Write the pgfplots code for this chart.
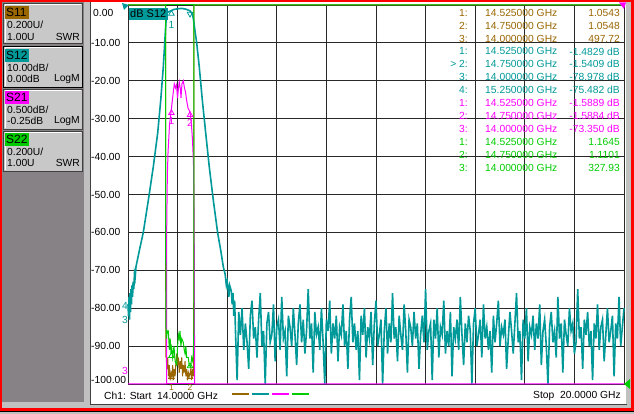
\documentclass[border=0pt]{standalone}
\usepackage{pgfplots}
\pgfplotsset{compat=1.18}
\usepackage{fontspec}
\setmainfont{Liberation Sans}
\definecolor{vteal}{RGB}{0,153,153}
\definecolor{vbrown}{RGB}{153,102,0}
\definecolor{vmag}{RGB}{255,0,255}
\definecolor{vgreen}{RGB}{0,204,0}
\definecolor{panel}{RGB}{134,130,134}
\definecolor{btn}{RGB}{200,200,200}
\definecolor{frm}{RGB}{192,192,192}
\definecolor{gridc}{RGB}{40,40,40}
\definecolor{dkb}{RGB}{64,64,64}
\begin{document}
\fontsize{10.3}{12}\selectfont
\begin{tikzpicture}
\useasboundingbox (0,0) rectangle (634pt,414pt);
\begin{scope}[shift={(0pt,414pt)},x=1pt,y=-1pt]
 \fill[red] (0,0) rectangle (634,411);
 \fill[black] (0,411) rectangle (634,412);
 \fill[frm] (0,412) rectangle (634,414);
 \fill[frm] (2,2) rectangle (631,408);
 \fill[panel] (2,2) rectangle (84,402);
 \fill[white] (91,2) rectangle (626,404);
 \draw[dkb,line width=1pt] (90,2) -- (90,405) -- (627,405);
 % buttons
 \foreach \ya/\yb in {3/44,46/88,89/130,131/172}{
   \fill[btn] (3,\ya) rectangle (83,\yb);
   \draw[dkb,line width=1pt] (3.5,\ya+0.5) rectangle (82.5,\yb-0.5);
   \draw[white,line width=1pt] (5,\yb-2) -- (5,\ya+2) -- (81,\ya+2);
 }
 \draw[black,line width=1.2pt] (3.5,46.5) rectangle (82.5,87.5);
 \fill[vbrown] (5,6) rectangle (29,19);
 \node[anchor=west,inner sep=0pt,font=\fontsize{12}{12}\selectfont] at (6,12.8) {S11};
 \node[anchor=west,inner sep=0pt] at (7,25) {0.200U/};
 \node[anchor=west,inner sep=0pt] at (7,36.5) {1.00U};
 \node[anchor=east,inner sep=0pt] at (80,36.5) {SWR};
 \fill[vteal] (5,49) rectangle (29,62);
 \node[anchor=west,inner sep=0pt,font=\fontsize{12}{12}\selectfont] at (6,55.5) {S12};
 \node[anchor=west,inner sep=0pt] at (7,67.5) {10.00dB/};
 \node[anchor=west,inner sep=0pt] at (7,79) {0.00dB};
 \node[anchor=east,inner sep=0pt] at (80,79) {LogM};
 \fill[vmag] (5,91) rectangle (29,104);
 \node[anchor=west,inner sep=0pt,font=\fontsize{12}{12}\selectfont] at (6,97.5) {S21};
 \node[anchor=west,inner sep=0pt] at (7,109.5) {0.500dB/};
 \node[anchor=west,inner sep=0pt] at (7,121) {-0.25dB};
 \node[anchor=east,inner sep=0pt] at (80,121) {LogM};
 \fill[vgreen] (5,133) rectangle (29,146);
 \node[anchor=west,inner sep=0pt,font=\fontsize{12}{12}\selectfont] at (6,139.5) {S22};
 \node[anchor=west,inner sep=0pt] at (7,151.5) {0.200U/};
 \node[anchor=west,inner sep=0pt] at (7,163) {1.00U};
 \node[anchor=east,inner sep=0pt] at (80,163) {SWR};
 % y labels
 \node[anchor=west,inner sep=0pt] at (93,12.7) {0.00};
 \foreach \lab/\yy in {-10.00/42.9,-20.00/80.8,-30.00/118.7,-40.00/156.6,-50.00/194.5,-60.00/232.4,-70.00/270.3,-80.00/308.2,-90.00/346.1,-100.00/379.5}{
   \node[anchor=west,inner sep=0pt] at (91,\yy) {\lab};
 }
\end{scope}
\begin{axis}[
  at={(128pt,30pt)}, anchor=south west,
  width=496pt, height=379pt, scale only axis,
  xmin=14, xmax=20, ymin=-100, ymax=0,
  xtick={14,14.6,15.2,15.8,16.4,17,17.6,18.2,18.8,19.4,20},
  ytick={-100,-90,-80,-70,-60,-50,-40,-30,-20,-10,0},
  xticklabels={}, yticklabels={},
  major tick length=0pt,
  grid=major,
  major grid style={draw=gridc, line width=0.9pt},
  axis line style={draw=gridc, line width=0.9pt},
  clip=false,
]
% S11 (SWR, screen units)
\addplot[vbrown, line width=1pt] coordinates {
(14.0,0)(14.455,0)(14.457,-93)(14.46,-92)(14.47,-96)(14.48,-93)(14.49,-98)(14.50,-95)(14.51,-99)(14.52,-97)(14.525,-97.3)(14.53,-98)(14.54,-95)(14.55,-99)(14.56,-96)(14.57,-98)(14.58,-94)(14.59,-92)(14.60,-95)(14.61,-93)(14.62,-97)(14.63,-94)(14.64,-96)(14.65,-93)(14.66,-98)(14.67,-95)(14.68,-97)(14.69,-94)(14.70,-98)(14.71,-96)(14.72,-99)(14.73,-97)(14.74,-98)(14.75,-97.3)(14.76,-96)(14.77,-99)(14.78,-96)(14.79,-98)(14.795,-94)(14.797,0)(20,0)};
% S12 (dB)
\addplot[vteal, line width=1.6pt] coordinates {
(14.000,-79.0)(14.006,-82)(14.012,-77)(14.018,-83)(14.024,-76)(14.030,-81)(14.036,-75)(14.042,-79)(14.048,-74)(14.055,-77)(14.062,-73)(14.070,-75)(14.078,-71)(14.086,-72)(14.097,-69)(14.145,-64)(14.185,-60)(14.246,-51.5)(14.306,-42.7)(14.359,-33.8)(14.396,-25.1)(14.427,-16.3)(14.451,-7.4)(14.462,-3.5)(14.475,-2.0)(14.50,-1.7)(14.525,-1.48)(14.55,-1.2)(14.60,-1.0)(14.65,-0.9)(14.70,-1.1)(14.75,-1.54)(14.775,-2.3)(14.79,-3.5)(14.805,-6)(14.831,-10)(14.862,-16.3)(14.899,-25.1)(14.940,-33.8)(14.983,-42.7)(15.032,-51.5)(15.085,-60.2)(15.12,-64.5)(15.153,-69.1)(15.175,-71)(15.19,-74)(15.20,-73)(15.213,-75.2)(15.22,-77)(15.23,-74)(15.25,-75.5)(15.26,-79)(15.27,-76)(15.28,-82)(15.29,-78)
(15.30,-86)(15.32,-99)(15.34,-81)(15.36,-87)(15.38,-80)(15.40,-91)(15.42,-84)(15.44,-89)(15.46,-96)(15.48,-82)
(15.50,-78)(15.52,-88)(15.54,-85)(15.56,-93)(15.58,-83)(15.60,-76)(15.62,-90)(15.64,-86)(15.66,-100)(15.68,-84)
(15.70,-81)(15.72,-89)(15.74,-87)(15.76,-79)(15.78,-94)(15.80,-85)(15.82,-83)(15.84,-91)(15.86,-77)(15.88,-88)
(15.90,-86)(15.92,-98)(15.94,-82)(15.96,-85)(15.98,-90)(16.00,-80)(16.02,-87)(16.04,-95)(16.06,-84)(16.08,-79)
(16.10,-89)(16.12,-83)(16.14,-92)(16.16,-86)(16.18,-75)(16.20,-88)(16.22,-84)(16.24,-97)(16.26,-81)(16.28,-87)
(16.30,-85)(16.32,-91)(16.34,-80)(16.36,-89)(16.38,-100)(16.40,-83)(16.42,-86)(16.44,-78)(16.46,-92)(16.48,-84)
(16.50,-88)(16.52,-82)(16.54,-94)(16.56,-85)(16.58,-87)(16.60,-79)(16.62,-90)(16.64,-86)(16.66,-96)(16.68,-83)
(16.70,-77)(16.72,-89)(16.74,-84)(16.76,-91)(16.78,-86)(16.80,-99)(16.82,-82)(16.84,-87)(16.86,-80)(16.88,-93)
(16.90,-85)(16.92,-88)(16.94,-81)(16.96,-95)(16.98,-84)(17.00,-78)(17.02,-90)(17.04,-87)(17.06,-83)(17.08,-100)
(17.10,-86)(17.12,-80)(17.14,-92)(17.16,-84)(17.18,-89)(17.20,-76)(17.22,-88)(17.24,-85)(17.26,-94)(17.28,-82)
(17.30,-87)(17.32,-91)(17.34,-79)(17.36,-86)(17.38,-97)(17.40,-83)(17.42,-85)(17.44,-90)(17.46,-81)(17.48,-88)
(17.50,-84)(17.52,-96)(17.54,-87)(17.56,-82)(17.58,-89)(17.60,-75)(17.62,-91)(17.64,-86)(17.66,-84)(17.68,-99)
(17.70,-83)(17.72,-88)(17.74,-80)(17.76,-93)(17.78,-85)(17.80,-87)(17.82,-78)(17.84,-92)(17.86,-86)(17.88,-90)
(17.90,-81)(17.92,-98)(17.94,-85)(17.96,-88)(17.98,-83)(18.00,-91)(18.02,-77)(18.04,-87)(18.06,-95)(18.08,-84)
(18.10,-89)(18.12,-82)(18.14,-86)(18.16,-100)(18.18,-84)(18.20,-80)(18.22,-90)(18.24,-87)(18.26,-83)(18.28,-93)
(18.30,-79)(18.32,-88)(18.34,-85)(18.36,-91)(18.38,-86)(18.40,-97)(18.42,-82)(18.44,-89)(18.46,-84)(18.48,-78)
(18.50,-90)(18.52,-85)(18.54,-87)(18.56,-83)(18.58,-96)(18.60,-88)(18.62,-81)(18.64,-86)(18.66,-92)(18.68,-84)
(18.70,-76)(18.72,-89)(18.74,-86)(18.76,-99)(18.78,-83)(18.80,-88)(18.82,-80)(18.84,-94)(18.86,-85)(18.88,-87)
(18.90,-82)(18.92,-91)(18.94,-84)(18.96,-88)(18.98,-79)(19.00,-95)(19.02,-86)(19.04,-83)(19.06,-90)(19.08,-100)
(19.10,-85)(19.12,-81)(19.14,-89)(19.16,-86)(19.18,-93)(19.20,-77)(19.22,-88)(19.24,-84)(19.26,-97)(19.28,-83)
(19.30,-87)(19.32,-90)(19.34,-80)(19.36,-86)(19.38,-84)(19.40,-92)(19.42,-89)(19.44,-75)(19.46,-88)(19.48,-85)
(19.50,-96)(19.52,-83)(19.54,-87)(19.56,-81)(19.58,-90)(19.60,-86)(19.62,-99)(19.64,-84)(19.66,-88)(19.68,-79)
(19.70,-91)(19.72,-85)(19.74,-83)(19.76,-94)(19.78,-87)(19.80,-80)(19.82,-89)(19.84,-86)(19.86,-82)(19.88,-98)
(19.90,-84)(19.92,-88)(19.94,-77)(19.96,-90)(19.98,-85)(20.00,-80)};
% S21 (screen units)
\addplot[vmag, line width=1pt] coordinates {
(14.0,-100)(14.466,-100)(14.468,-59.4)(14.472,-52)(14.476,-45)(14.484,-39)(14.502,-31.7)(14.526,-27.2)(14.544,-23.7)(14.560,-20.8)(14.575,-21.9)(14.587,-21.1)(14.599,-24.6)(14.611,-21.9)(14.620,-20.3)(14.635,-22.4)(14.641,-24.5)(14.653,-20.8)(14.669,-20.0)(14.683,-21.9)(14.696,-23)(14.708,-25)(14.726,-27.2)(14.750,-28.2)(14.768,-31.7)(14.780,-35.6)(14.792,-41.7)(14.797,-50)(14.801,-60)(14.806,-100)(20,-100)};
\addplot[vmag, line width=1pt] coordinates {(14.46,-100)(14.81,-100)};
% S22 (SWR, screen units)
\addplot[vgreen, line width=1pt] coordinates {
(14.0,0)(14.455,0)(14.457,-84)(14.465,-88)(14.475,-86)(14.488,-86)(14.50,-91)(14.51,-88)(14.52,-92)(14.529,-90.5)(14.54,-93)(14.556,-90)(14.57,-94)(14.589,-95)(14.60,-90)(14.61,-87)(14.62,-88)(14.629,-86)(14.64,-90)(14.65,-88)(14.669,-89)(14.68,-91)(14.69,-92)(14.70,-90)(14.71,-93)(14.729,-93)(14.74,-95)(14.758,-95.5)(14.77,-93)(14.783,-94)(14.79,-92)(14.795,-88)(14.797,-82)(14.798,0)(20,0)};
\addplot[vgreen, line width=1pt] coordinates {(14.45,0)(14.81,0)};
% markers
\addplot[vteal, only marks, mark=triangle, mark size=3.2pt, mark options={yshift=-3pt, line width=0.8pt}] coordinates {(14.525,-1.48)};
\addplot[vteal, only marks, mark=triangle, mark size=3.2pt, mark options={rotate=180, yshift=3pt, line width=0.8pt}] coordinates {(14.75,-1.54)};
\addplot[vmag, only marks, mark=triangle, mark size=3.2pt, mark options={yshift=-3pt, line width=0.8pt}] coordinates {(14.525,-27.7)(14.75,-28.2)};
\addplot[vbrown, only marks, mark=triangle, mark size=3.2pt, mark options={yshift=-3pt, line width=0.8pt}] coordinates {(14.525,-97.3)(14.75,-97.3)};
\addplot[vgreen, only marks, mark=triangle, mark size=3.2pt, mark options={yshift=-3pt, line width=0.8pt}] coordinates {(14.525,-91.8)(14.75,-94.5)};
\node[vteal, inner sep=0pt] at (axis cs:14.525,-5.3) {1};
\node[vmag, inner sep=0pt] at (axis cs:14.525,-30.5) {1};
\node[vmag, inner sep=0pt] at (axis cs:14.75,-31) {2};
\node[vbrown, inner sep=0pt, font=\fontsize{8.5}{9}\selectfont] at (axis cs:14.525,-100.9) {1};
\node[vbrown, inner sep=0pt, font=\fontsize{8.5}{9}\selectfont] at (axis cs:14.75,-100.9) {2};
\node[vteal, anchor=east, inner sep=0pt] at (axis cs:14.0,-79.5) {4};
\node[vteal, anchor=east, inner sep=0pt] at (axis cs:14.0,-83) {3};
\node[vmag, anchor=east, inner sep=0pt] at (axis cs:14.0,-96.5) {3};
\end{axis}
\begin{scope}[shift={(0pt,414pt)},x=1pt,y=-1pt]
 % reference position indicators
 \fill[vteal] (122,3) -- (129,5) -- (124,10) -- cycle;
 \fill[vgreen] (624,384) -- (630,379) -- (630,389) -- cycle;
 \fill[vmag] (619,2.5) -- (626,2.5) -- (624,9) -- cycle;
 % trace label
 \node[fill=vteal, inner sep=1.5pt, anchor=west, font=\fontsize{11}{12}\selectfont] at (128.5,14) {dB S12};
 % marker table
 \foreach \n/\f/\v/\c [count=\i from 0] in {
   1:/14.525000 GHz/1.0543/vbrown,
   2:/14.750000 GHz/1.0548/vbrown,
   3:/14.000000 GHz/497.72/vbrown,
   1:/14.525000 GHz/-1.4829 dB/vteal,
   > 2:/14.750000 GHz/-1.5409 dB/vteal,
   3:/14.000000 GHz/-78.978 dB/vteal,
   4:/15.250000 GHz/-75.482 dB/vteal,
   1:/14.525000 GHz/-1.5889 dB/vmag,
   2:/14.750000 GHz/-1.5884 dB/vmag,
   3:/14.000000 GHz/-73.350 dB/vmag,
   1:/14.525000 GHz/1.1645/vgreen,
   2:/14.750000 GHz/1.1101/vgreen,
   3:/14.000000 GHz/327.93/vgreen}{
   \pgfmathsetmacro{\yy}{12.7+12.9*\i}
   \node[\c, anchor=east, inner sep=0pt] at (468,\yy) {\n};
   \node[\c, anchor=west, inner sep=0pt] at (485,\yy) {\f};
   \node[\c, anchor=east, inner sep=0pt] at (620,\yy) {\v};
 }
 % status line
 \node[anchor=west, inner sep=0pt] at (104,396) {Ch1: Start\ \ 14.0000 GHz};
 \node[anchor=east, inner sep=0pt] at (621,396) {Stop\ \ 20.0000 GHz};
 \draw[vbrown, line width=2pt] (232,394) -- (249,394);
 \draw[vteal, line width=2pt] (252,394) -- (269,394);
 \draw[vmag, line width=2pt] (272,394) -- (289,394);
 \draw[vgreen, line width=2pt] (292,394) -- (309,394);
\end{scope}
\end{tikzpicture}
\end{document}
